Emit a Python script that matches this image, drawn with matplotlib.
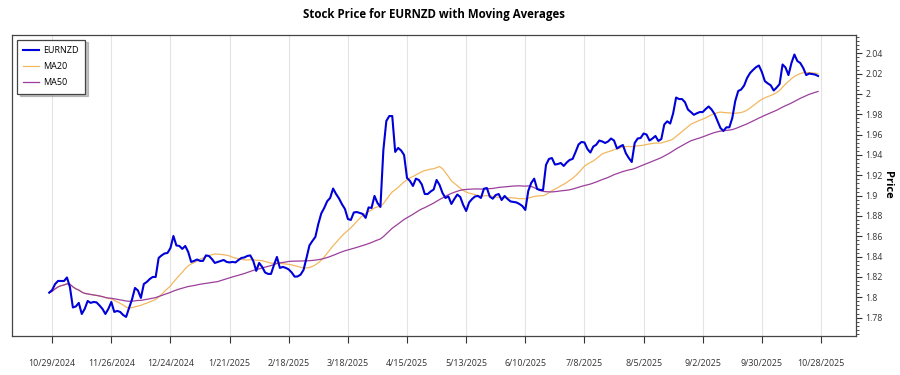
import matplotlib
matplotlib.use('Agg')
import matplotlib.pyplot as plt
from matplotlib.ticker import MultipleLocator, AutoMinorLocator, FuncFormatter
import numpy as np
import pandas as pd

plt.rcParams['font.family'] = ['Open Sans', 'DejaVu Sans']

## Daily closes (one per trading day, 10/28/2024 - 10/27/2025)
ticker = 'EURNZD'

closes = [
    1.8046, 1.8072, 1.8131, 1.8161, 1.8160, 1.8160, 1.8195, 1.8100, 1.7900, 1.7910,
    1.7945, 1.7836, 1.7886, 1.7964, 1.7945, 1.7954, 1.7950, 1.7920, 1.7886, 1.7836,
    1.7886, 1.7954, 1.7856, 1.7866, 1.7856, 1.7826, 1.7807, 1.7895, 1.7979, 1.8092,
    1.8067, 1.7994, 1.8131, 1.8151, 1.8180, 1.8200, 1.8200, 1.8387, 1.8412, 1.8431,
    1.8436, 1.8485, 1.8603, 1.8510, 1.8505, 1.8476, 1.8505, 1.8446, 1.8348, 1.8358,
    1.8372, 1.8358, 1.8358, 1.8412, 1.8407, 1.8377, 1.8338, 1.8348, 1.8358, 1.8367,
    1.8348, 1.8343, 1.8348, 1.8343, 1.8367, 1.8387, 1.8392, 1.8407, 1.8412, 1.8358,
    1.8260, 1.8338, 1.8299, 1.8244, 1.8230, 1.8230, 1.8318, 1.8397, 1.8289, 1.8299,
    1.8289, 1.8274, 1.8244, 1.8203, 1.8205, 1.8223, 1.8269, 1.8387, 1.8510, 1.8554,
    1.8594, 1.8721, 1.8825, 1.8879, 1.8945, 1.8977, 1.9070, 1.9016, 1.8972, 1.8915,
    1.8869, 1.8770, 1.8761, 1.8834, 1.8839, 1.8830, 1.8820, 1.8781, 1.8884, 1.8879,
    1.8997, 1.8928, 1.8889, 1.9449, 1.9734, 1.9783, 1.9783, 1.9430, 1.9469, 1.9444,
    1.9400, 1.9174, 1.9144, 1.9095, 1.9167, 1.9154, 1.9110, 1.9016, 1.9016, 1.9041,
    1.9060, 1.9154, 1.9105, 1.9026, 1.8977, 1.8992, 1.8918, 1.8967, 1.9011, 1.8987,
    1.8908, 1.8849, 1.8933, 1.8967, 1.8992, 1.8997, 1.8977, 1.9068, 1.9075, 1.8990,
    1.8970, 1.9006, 1.9016, 1.8957, 1.8997, 1.8967, 1.8943, 1.8938, 1.8933, 1.8918,
    1.8898, 1.8859, 1.9046, 1.9125, 1.9167, 1.9066, 1.9056, 1.9056, 1.9302, 1.9361,
    1.9370, 1.9306, 1.9311, 1.9321, 1.9292, 1.9326, 1.9351, 1.9361, 1.9429, 1.9503,
    1.9528, 1.9523, 1.9459, 1.9424, 1.9483, 1.9501, 1.9542, 1.9533, 1.9518, 1.9533,
    1.9562, 1.9542, 1.9464, 1.9483, 1.9498, 1.9417, 1.9370, 1.9331, 1.9518, 1.9562,
    1.9567, 1.9611, 1.9601, 1.9542, 1.9562, 1.9587, 1.9538, 1.9557, 1.9700, 1.9731,
    1.9709, 1.9810, 1.9965, 1.9950, 1.9950, 1.9919, 1.9847, 1.9822, 1.9795, 1.9810,
    1.9822, 1.9822, 1.9852, 1.9877, 1.9847, 1.9803, 1.9734, 1.9665, 1.9636, 1.9672,
    1.9672, 1.9764, 1.9931, 2.0029, 2.0044, 2.0083, 2.0157, 2.0206, 2.0236, 2.0263,
    2.0280, 2.0216, 2.0127, 2.0104, 2.0085, 2.0034, 2.0063, 2.0098, 2.0290, 2.0260,
    2.0186, 2.0304, 2.0388, 2.0324, 2.0304, 2.0255, 2.0186, 2.0201, 2.0196, 2.0191,
    2.0177,
]

## x tick labels, one every 20 trading days starting at day index 1
tick_labels = ['10/29/2024', '11/26/2024', '12/24/2024', '1/21/2025', '2/18/2025',
               '3/18/2025', '4/15/2025', '5/13/2025', '6/10/2025', '7/8/2025',
               '8/5/2025', '9/2/2025', '9/30/2025', '10/28/2025']
tick_step = 20


def build_frame():
    df = pd.DataFrame({'close': closes})
    df['MA20'] = df['close'].rolling(20, min_periods=1).mean()
    df['MA50'] = df['close'].rolling(50, min_periods=1).mean()
    return df


def visualize_data():
    df = build_frame()

    fig = plt.figure(figsize=(9, 3.75), dpi=100)
    ax = fig.add_subplot(1, 1, 1)
    fig.subplots_adjust(left=0.0133, right=0.951, top=0.908, bottom=0.105)

    ax.plot(df.index, df['close'], color='#0000d8', lw=1.5, label=ticker, zorder=3)
    ax.plot(df.index, df['MA20'], color='#f2b860', lw=0.9, label='MA20', zorder=2)
    ax.plot(df.index, df['MA50'], color='#9c3f9c', lw=0.9, label='MA50', zorder=2)

## Axis layout
    ax.set_xticks(1 + tick_step * np.arange(len(tick_labels)))
    ax.set_xticklabels(tick_labels)
    ax.set_xlim(-12.6, 272.8)
    ax.set_ylim(1.7623, 2.0585)

    ax.yaxis.tick_right()
    ax.yaxis.set_label_position('right')
    ax.yaxis.set_major_locator(MultipleLocator(0.02))
    ax.yaxis.set_minor_locator(AutoMinorLocator(5))
    ax.yaxis.set_major_formatter(FuncFormatter(lambda v, pos: '{:g}'.format(round(v, 2))))
    ax.set_ylabel('Price', rotation=270, fontsize=8, fontweight='bold', labelpad=7)

    ax.tick_params(axis='y', which='major', length=4, labelsize=6.3, colors='#333333', pad=3)
    ax.tick_params(axis='y', which='minor', length=2, color='#333333')
    ax.tick_params(axis='x', which='major', length=5, labelsize=6.4, colors='#333333', pad=12)

    ax.grid(axis='x', color='#e3e3e3', lw=0.8)
    ax.grid(axis='y', visible=False)
    for s in ax.spines.values():
        s.set_color('#444444')
        s.set_linewidth(0.9)

    ax.set_title('Stock Price for {} with Moving Averages'.format(ticker),
                 fontsize=8.3, fontweight='bold', pad=12)

    leg = ax.legend(loc='upper left', fontsize=6.5, fancybox=False,
                    shadow={'ox': 2, 'oy': -2, 'color': '#888888'},
                    framealpha=1, edgecolor='#444444', borderpad=0.7, borderaxespad=0,
                    handlelength=1.7, handletextpad=0.5, labelspacing=0.8,
                    bbox_to_anchor=(0.006, 0.983))
    leg.get_frame().set_linewidth(0.9)

    fig.savefig('out.png', dpi=100)


visualize_data()
